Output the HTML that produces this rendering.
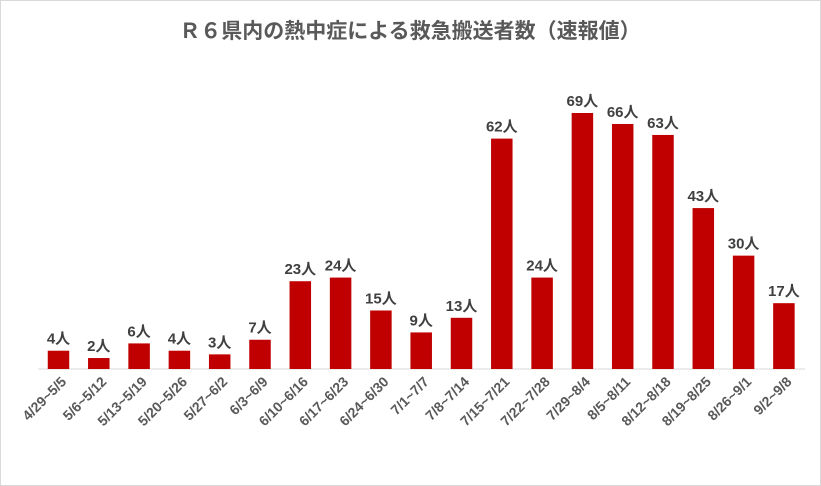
<!DOCTYPE html>
<html><head><meta charset="utf-8"><style>
body{margin:0;background:#fff;}
svg{display:block;font-family:"Liberation Sans","Noto Sans CJK JP",sans-serif;}
</style></head><body>
<svg width="821" height="486">
<rect x="0.5" y="0.5" width="820" height="485" fill="#fff" stroke="#d9d9d9"/>
<text x="410" y="38" text-anchor="middle" font-size="21" font-weight="bold" fill="#595959" font-family="'Liberation Sans','Noto Sans CJK JP',sans-serif">Ｒ６県内の熱中症による救急搬送者数（速報値）</text>
<line x1="38" y1="369" x2="805" y2="369" stroke="#d9d9d9" stroke-width="1"/>
<g id="bars"></g>
</svg>
<script>
const categories=["4/29~5/5","5/6~5/12","5/13~5/19","5/20~5/26","5/27~6/2","6/3~6/9","6/10~6/16","6/17~6/23","6/24~6/30","7/1~7/7","7/8~7/14","7/15~7/21","7/22~7/28","7/29~8/4","8/5~8/11","8/12~8/18","8/19~8/25","8/26~9/1","9/2~9/8"];
const values=[4,2,6,4,3,7,23,24,15,9,13,62,24,69,66,63,43,30,17];
const yMin=-1, yMax=69;
const baseY=369, topY=113;
const x0=58.5, pitch=40.3, bw=21.5;
function xScale(i){return x0+i*pitch;}
function yScale(v){return baseY-(v-yMin)/(yMax-yMin)*(baseY-topY);}
const NS="http://www.w3.org/2000/svg";
const g=document.getElementById('bars');
categories.forEach((c,i)=>{
  const cx=xScale(i), y=yScale(values[i]);
  const r=document.createElementNS(NS,'rect');
  r.setAttribute('x',cx-bw/2);r.setAttribute('y',y);r.setAttribute('width',bw);r.setAttribute('height',baseY-y);
  r.setAttribute('fill','#c00000');
  
  
  g.appendChild(r);
  const t=document.createElementNS(NS,'text');
  t.setAttribute('x',cx);t.setAttribute('y',y-7);t.setAttribute('text-anchor','middle');
  t.setAttribute('font-size','15');t.setAttribute('font-weight','bold');t.setAttribute('fill','#404040');
  t.textContent=values[i]+'人';
  
  
  g.appendChild(t);
  const l=document.createElementNS(NS,'text');
  l.setAttribute('transform','translate('+(cx+6)+',380) rotate(-45)');
  l.setAttribute('text-anchor','end');l.setAttribute('dominant-baseline','middle');
  l.setAttribute('font-size','14');l.setAttribute('font-weight','bold');l.setAttribute('fill','#595959');
  l.textContent=c;
  
  
  g.appendChild(l);
});
</script>
</body></html>
